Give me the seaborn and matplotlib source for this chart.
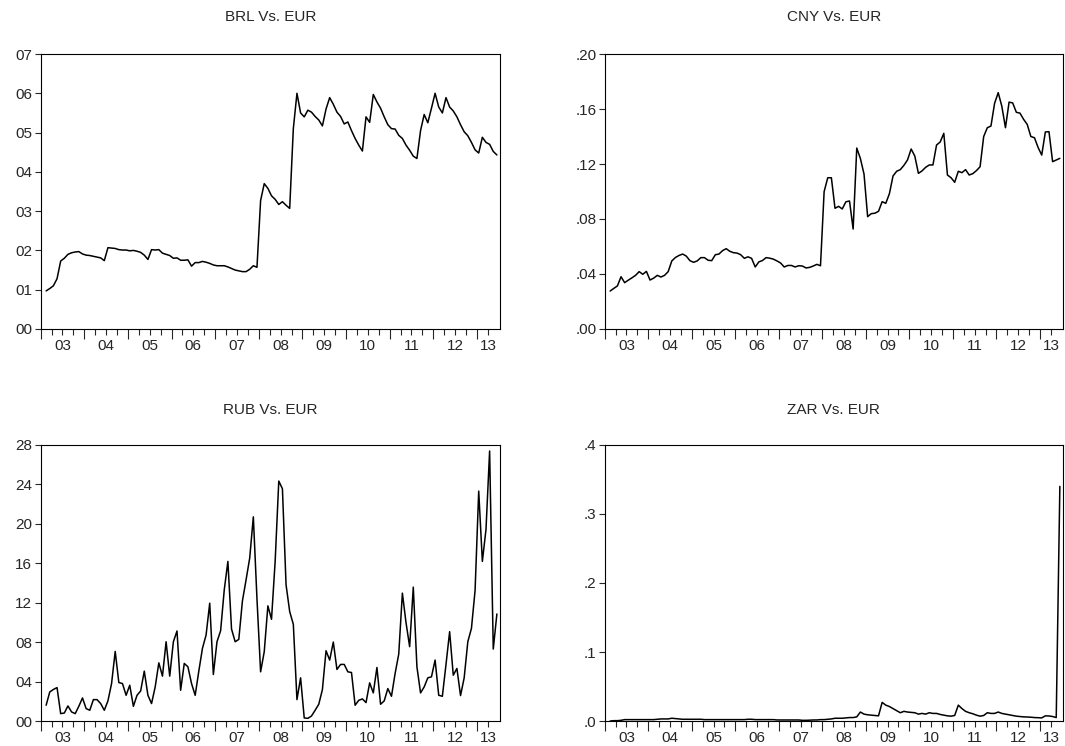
import numpy as np
import pandas as pd
import matplotlib
matplotlib.use('Agg')
import matplotlib.pyplot as plt
import seaborn as sns

sns.set_style('ticks')
plt.rcParams['font.family'] = ['Liberation Sans', 'DejaVu Sans']

# monthly observations, Feb 2003 - Jun 2013
dates = pd.date_range('2003-02-01', periods=125, freq='MS')

titles = ['BRL Vs. EUR', 'CNY Vs. EUR', 'RUB Vs. EUR', 'ZAR Vs. EUR']

# values in hundredths
brl = [0.97, 1.03, 1.10, 1.28, 1.73, 1.80, 1.90, 1.94, 1.96, 1.97, 1.91, 1.88,
       1.87, 1.85, 1.83, 1.81, 1.74, 2.07, 2.06, 2.05, 2.02, 2.01, 2.01, 1.99,
       2.00, 1.98, 1.95, 1.88, 1.77, 2.02, 2.01, 2.02, 1.93, 1.90, 1.87, 1.80,
       1.81, 1.75, 1.75, 1.76, 1.60, 1.69, 1.69, 1.72, 1.70, 1.67, 1.63, 1.61,
       1.61, 1.61, 1.58, 1.54, 1.50, 1.48, 1.46, 1.46, 1.52, 1.61, 1.57, 3.27,
       3.70, 3.58, 3.39, 3.30, 3.17, 3.24, 3.15, 3.07, 5.10, 6.00, 5.50, 5.40,
       5.57, 5.52, 5.41, 5.32, 5.17, 5.60, 5.89, 5.72, 5.52, 5.41, 5.22, 5.27,
       5.05, 4.85, 4.68, 4.53, 5.40, 5.26, 5.97, 5.78, 5.62, 5.40, 5.20, 5.10,
       5.09, 4.93, 4.85, 4.68, 4.55, 4.40, 4.34, 5.05, 5.46, 5.25, 5.62, 6.00,
       5.65, 5.50, 5.89, 5.65, 5.55, 5.40, 5.20, 5.02, 4.92, 4.75, 4.56, 4.48,
       4.88, 4.75, 4.70, 4.52, 4.43]

cny = [2.76, 2.95, 3.13, 3.80, 3.37, 3.55, 3.72, 3.90, 4.17, 3.98, 4.19, 3.56,
       3.70, 3.90, 3.78, 3.90, 4.17, 4.95, 5.20, 5.35, 5.45, 5.30, 4.97, 4.85,
       4.95, 5.19, 5.19, 5.00, 4.97, 5.40, 5.45, 5.70, 5.84, 5.65, 5.55, 5.52,
       5.40, 5.14, 5.25, 5.14, 4.51, 4.88, 4.98, 5.19, 5.15, 5.08, 4.95, 4.80,
       4.51, 4.62, 4.62, 4.51, 4.60, 4.58, 4.44, 4.48, 4.58, 4.70, 4.60, 9.99,
       11.0, 11.0, 8.78, 8.92, 8.73, 9.25, 9.31, 7.27, 13.16, 12.4, 11.27, 8.17,
       8.39, 8.42, 8.56, 9.26, 9.14, 9.84, 11.13, 11.47, 11.59, 11.9, 12.3, 13.09,
       12.58, 11.32, 11.5, 11.76, 11.93, 11.93, 13.38, 13.6, 14.23, 11.2, 11.0, 10.67,
       11.47, 11.37, 11.59, 11.2, 11.3, 11.52, 11.8, 14.0, 14.64, 14.76, 16.41, 17.19,
       16.2, 14.64, 16.5, 16.44, 15.76, 15.7, 15.25, 14.88, 14.0, 13.91, 13.2, 12.65,
       14.33, 14.35, 12.17, 12.29, 12.41]

rub = [1.6, 2.95, 3.2, 3.39, 0.75, 0.81, 1.53, 0.92, 0.75, 1.5, 2.34, 1.26,
       1.09, 2.17, 2.17, 1.77, 1.09, 2.04, 3.8, 7.06, 3.9, 3.8, 2.61, 3.63,
       1.49, 2.61, 3.05, 5.06, 2.61, 1.77, 3.46, 5.9, 4.55, 8.04, 4.55, 8.04,
       9.13, 3.12, 5.84, 5.5, 3.8, 2.61, 5.06, 7.37, 8.72, 11.95, 4.72, 8.04,
       9.16, 13.3, 16.19, 9.33, 8.04, 8.28, 12.19, 14.32, 16.53, 20.71, 12.39, 4.99,
       7.03, 11.68, 10.32, 16.19, 24.34, 23.56, 13.82, 11.1, 9.81, 2.17, 4.38, 0.31,
       0.27, 0.51, 1.09, 1.7, 3.19, 7.13, 6.18, 8.01, 5.23, 5.74, 5.74, 4.99,
       4.92, 1.6, 2.1, 2.24, 1.87, 3.87, 2.85, 5.43, 1.7, 2.04, 3.29, 2.51,
       4.82, 6.79, 12.97, 9.98, 7.54, 13.58, 5.5, 2.85, 3.46, 4.38, 4.48, 6.18,
       2.61, 2.51, 5.74, 9.06, 4.65, 5.33, 2.58, 4.38, 8.04, 9.4, 13.24, 23.32,
       16.19, 19.42, 27.39, 7.3, 10.86]

zar = [0.00, 0.05, 0.05, 0.10, 0.20, 0.20, 0.20, 0.20, 0.20, 0.20, 0.20, 0.20,
       0.20, 0.25, 0.30, 0.30, 0.30, 0.40, 0.35, 0.30, 0.25, 0.25, 0.25, 0.25,
       0.25, 0.25, 0.20, 0.20, 0.20, 0.20, 0.20, 0.20, 0.20, 0.20, 0.20, 0.20,
       0.20, 0.20, 0.25, 0.25, 0.20, 0.20, 0.20, 0.20, 0.20, 0.20, 0.15, 0.15,
       0.15, 0.15, 0.15, 0.15, 0.15, 0.10, 0.10, 0.12, 0.15, 0.15, 0.20, 0.20,
       0.25, 0.30, 0.40, 0.40, 0.40, 0.45, 0.50, 0.50, 0.60, 1.30, 1.00, 0.90,
       0.85, 0.80, 0.75, 2.70, 2.30, 2.10, 1.80, 1.50, 1.20, 1.40, 1.30, 1.25,
       1.20, 1.00, 1.10, 1.00, 1.20, 1.10, 1.10, 0.95, 0.85, 0.75, 0.70, 0.80,
       2.30, 1.80, 1.40, 1.20, 1.05, 0.85, 0.70, 0.80, 1.20, 1.10, 1.10, 1.30,
       1.10, 1.00, 0.90, 0.80, 0.70, 0.65, 0.60, 0.58, 0.55, 0.50, 0.48, 0.45,
       0.75, 0.73, 0.65, 0.50, 34.0]

series = [np.array(brl) / 100, np.array(cny) / 100,
          np.array(rub) / 100, np.array(zar) / 100]

yticks = [np.arange(0, 0.071, 0.01), np.arange(0, 0.201, 0.04),
          np.arange(0, 0.281, 0.04), np.arange(0, 0.41, 0.1)]
ylabels = [['00', '01', '02', '03', '04', '05', '06', '07'],
           ['.00', '.04', '.08', '.12', '.16', '.20'],
           ['00', '04', '08', '12', '16', '20', '24', '28'],
           ['.0', '.1', '.2', '.3', '.4']]

year_labels = ['03', '04', '05', '06', '07', '08', '09', '10', '11', '12', '13']

x = dates.year + (dates.month - 0.5) / 12
x_right = 2013.53

fig = plt.figure(figsize=(10.65, 7.46), dpi=100)
positions = [[0.0382, 0.559, 0.4313, 0.3686],
             [0.5678, 0.559, 0.4303, 0.3686],
             [0.0382, 0.0335, 0.4313, 0.370],
             [0.5678, 0.0335, 0.4303, 0.370]]

for k in range(4):
    ax = fig.add_axes(positions[k])
    sns.lineplot(x=x, y=series[k], ax=ax, color='black', linewidth=1.1)
    ax.set_xlabel('')
    ax.set_ylabel('')
    ax.set_xlim(2003, x_right)
    ax.set_ylim(yticks[k][0], yticks[k][-1])
    ax.set_yticks(yticks[k])
    ax.set_yticklabels(ylabels[k])
    ax.tick_params(axis='y', direction='out', length=4, width=0.8,
                   labelsize=11, pad=2)
    # year ticks and quarter ticks, labels in the middle of each year
    ax.set_xticks(np.arange(2003, 2014))
    ax.set_xticklabels([])
    ax.set_xticks(np.arange(2003.25, 2013.3, 0.25), minor=True)
    ax.tick_params(axis='x', which='major', direction='out', length=7, width=0.8)
    ax.tick_params(axis='x', which='minor', direction='out', length=4, width=0.8)
    sec = ax.secondary_xaxis('bottom')
    sec.set_xticks(list(np.arange(2003.5, 2013, 1.0)) + [2013.27])
    sec.set_xticklabels(year_labels)
    sec.tick_params(length=0, labelsize=11, pad=7.5)
    sec.spines['bottom'].set_visible(False)
    for s in ax.spines.values():
        s.set_visible(True)
        s.set_linewidth(0.8)
        s.set_color('black')
    ax.set_title(titles[k], fontsize=11, pad=24 if k < 2 else 22)

fig.savefig('out.png', dpi=100)
